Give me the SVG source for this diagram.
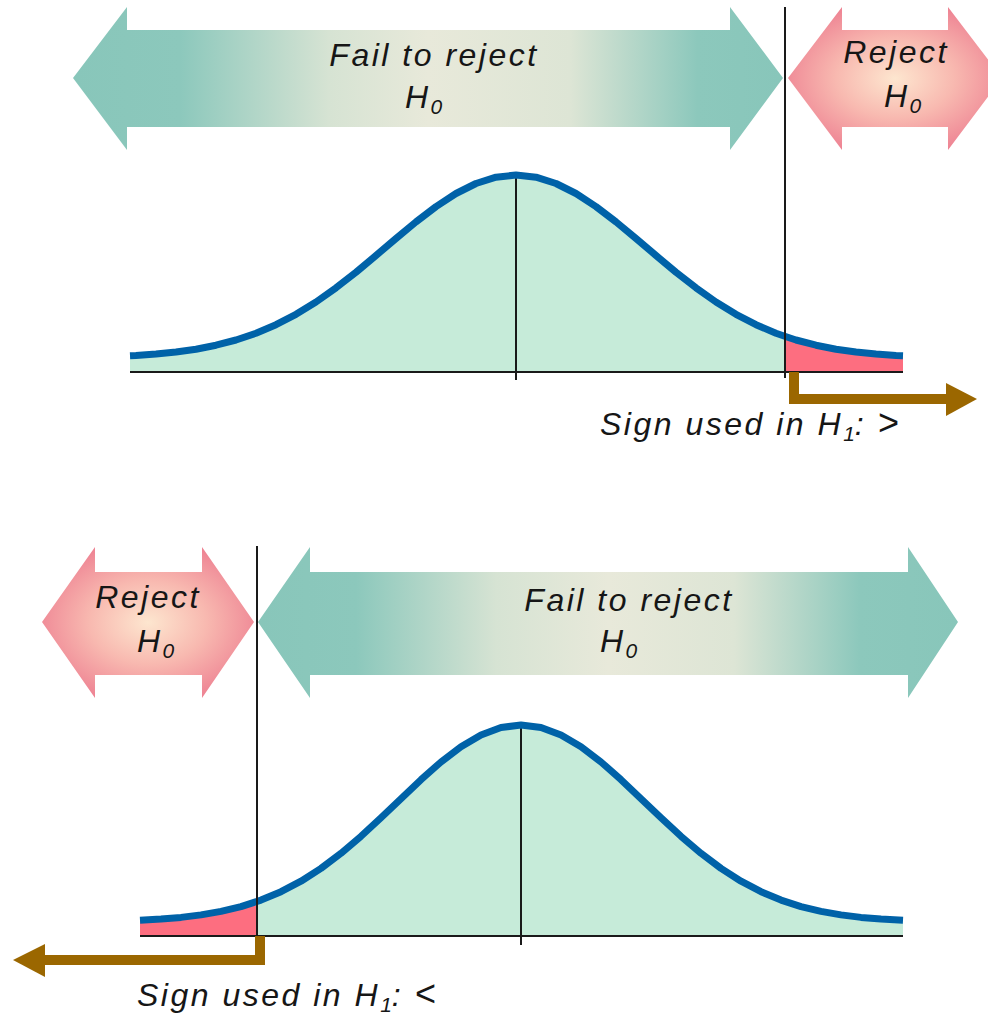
<svg xmlns="http://www.w3.org/2000/svg" width="988" height="1017" viewBox="0 0 988 1017">
<style>
.lbl{font-family:"Liberation Sans",Arial,sans-serif;font-style:italic;font-size:32px;letter-spacing:2.5px;fill:#161616}
.sub{font-size:21px;letter-spacing:0}
.sgn{font-size:36px;letter-spacing:0}
.axis{stroke:#1a1a1a;stroke-width:2;fill:none}
.curve{stroke:#0062a8;stroke-width:7;fill:none;stroke-linejoin:round;stroke-linecap:butt}
.green{fill:#c6ebd9}
.red{fill:#fd6e80}
.brown{stroke:#9b6700;stroke-width:10;fill:none}
.brownhead{fill:#9b6700}
</style>
<defs>
<linearGradient id="gTop" gradientUnits="userSpaceOnUse" x1="73" y1="0" x2="783" y2="0">
<stop offset="0" stop-color="#88c6ba"/>
<stop offset="0.15" stop-color="#8cc8bc"/>
<stop offset="0.36" stop-color="#d6e3d3"/>
<stop offset="0.5" stop-color="#e8e9da"/>
<stop offset="0.7" stop-color="#dde5d5"/>
<stop offset="0.88" stop-color="#8cc8bc"/>
<stop offset="1" stop-color="#88c6ba"/>
</linearGradient>
<linearGradient id="gBot" gradientUnits="userSpaceOnUse" x1="258" y1="0" x2="958" y2="0">
<stop offset="0" stop-color="#88c6ba"/>
<stop offset="0.14" stop-color="#8cc8bc"/>
<stop offset="0.34" stop-color="#d6e3d3"/>
<stop offset="0.5" stop-color="#e8e9da"/>
<stop offset="0.68" stop-color="#dde5d5"/>
<stop offset="0.86" stop-color="#8cc8bc"/>
<stop offset="1" stop-color="#88c6ba"/>
</linearGradient>
<radialGradient id="gRej" cx="0.5" cy="0.5" r="0.55">
<stop offset="0" stop-color="#fde6cf"/>
<stop offset="0.5" stop-color="#f8b9b0"/>
<stop offset="1" stop-color="#ee8393"/>
</radialGradient>
</defs>

<!-- Top panel -->
<g id="top-fail-arrow">
<polygon points="73,78 127,7 127,30 730,30 730,7 783,78 730,150 730,127 127,127 127,150" fill="url(#gTop)"/>
<text class="lbl" x="434" y="66" text-anchor="middle">Fail to reject</text>
<text class="lbl" x="405" y="108">H<tspan class="sub" dy="6">0</tspan></text>
</g>
<g id="top-reject-arrow">
<polygon points="788,78 842,7 842,30 948,30 948,7 1002,78 948,150 948,127 842,127 842,150" fill="url(#gRej)"/>
<text class="lbl" x="896" y="63" text-anchor="middle">Reject</text>
<text class="lbl" x="884" y="107">H<tspan class="sub" dy="6">0</tspan></text>
</g>
<g id="top-curve">
<path class="green" d="M130,372 L130,355.8 L136,355.5 L156,354 L176,352 L196,349.2 L216,345.2 L236,340 L256,333.2 L276,324.7 L296,314.3 L316,302 L336,287.8 L356,272.2 L376,255.5 L396,238.5 L416,221.9 L436,206.6 L456,193.5 L476,183.5 L496,177.2 L516,175 L536,177.2 L556,183.5 L576,193.5 L596,206.6 L616,221.9 L636,238.5 L656,255.5 L676,272.2 L696,287.8 L716,302 L736,314.3 L756,324.7 L776,333.2 L784,336 L784,372 Z"/>
<path class="red" d="M784,336 L796,340 L816,345.2 L836,349.2 L856,352 L876,354 L896,355.5 L903,355.8 L903,372 L784,372 Z"/>
<line class="axis" x1="130" y1="372" x2="903" y2="372"/>
<line class="axis" x1="516" y1="175" x2="516" y2="380"/>
<path class="curve" d="M130,355.8 L136,355.5 L156,354 L176,352 L196,349.2 L216,345.2 L236,340 L256,333.2 L276,324.7 L296,314.3 L316,302 L336,287.8 L356,272.2 L376,255.5 L396,238.5 L416,221.9 L436,206.6 L456,193.5 L476,183.5 L496,177.2 L516,175 L536,177.2 L556,183.5 L576,193.5 L596,206.6 L616,221.9 L636,238.5 L656,255.5 L676,272.2 L696,287.8 L716,302 L736,314.3 L756,324.7 L776,333.2 L784,336 L796,340 L816,345.2 L836,349.2 L856,352 L876,354 L896,355.5 L903,355.8"/>
<line class="axis" x1="785" y1="7" x2="785" y2="378"/>
</g>
<g id="top-sign">
<path class="brown" d="M794,372 L794,399 L948,399"/>
<polygon class="brownhead" points="946,383 977,399 946,416"/>
<text class="lbl" x="600" y="435">Sign used in H<tspan class="sub" dy="6">1</tspan><tspan dy="-6">: </tspan><tspan class="sgn">&gt;</tspan></text>
</g>

<!-- Bottom panel -->
<g id="bottom-reject-arrow">
<polygon points="42,622 95,547 95,572 202,572 202,547 254,622 202,698 202,675 95,675 95,698" fill="url(#gRej)"/>
<text class="lbl" x="148" y="608" text-anchor="middle">Reject</text>
<text class="lbl" x="137" y="652">H<tspan class="sub" dy="6">0</tspan></text>
</g>
<g id="bottom-fail-arrow">
<polygon points="258,622 310,547 310,572 908,572 908,547 958,622 908,698 908,675 310,675 310,698" fill="url(#gBot)"/>
<text class="lbl" x="629" y="611" text-anchor="middle">Fail to reject</text>
<text class="lbl" x="600" y="652">H<tspan class="sub" dy="6">0</tspan></text>
</g>
<g id="bottom-curve">
<path class="red" d="M140,936 L140,920.3 L161,919.1 L181,917.4 L201,914.9 L221,911.4 L241,906.6 L257,901.5 L257,936 Z"/>
<path class="green" d="M257,936 L257,901.5 L261,900.1 L281,891.7 L301,881.2 L321,868.4 L341,853.3 L361,836.3 L381,817.8 L401,798.7 L421,779.7 L441,762 L461,746.8 L481,735 L501,727.5 L521,725 L541,727.5 L561,735 L581,746.8 L601,762 L621,779.7 L641,798.7 L661,817.8 L681,836.3 L701,853.3 L721,868.4 L741,881.2 L761,891.7 L781,900.1 L801,906.6 L821,911.4 L841,914.9 L861,917.4 L881,919.1 L903,920.3 L903,936 Z"/>
<line class="axis" x1="140" y1="936" x2="903" y2="936"/>
<line class="axis" x1="521" y1="725" x2="521" y2="945"/>
<path class="curve" d="M140,920.3 L161,919.1 L181,917.4 L201,914.9 L221,911.4 L241,906.6 L261,900.1 L281,891.7 L301,881.2 L321,868.4 L341,853.3 L361,836.3 L381,817.8 L401,798.7 L421,779.7 L441,762 L461,746.8 L481,735 L501,727.5 L521,725 L541,727.5 L561,735 L581,746.8 L601,762 L621,779.7 L641,798.7 L661,817.8 L681,836.3 L701,853.3 L721,868.4 L741,881.2 L761,891.7 L781,900.1 L801,906.6 L821,911.4 L841,914.9 L861,917.4 L881,919.1 L903,920.3"/>
<line class="axis" x1="257" y1="546" x2="257" y2="940"/>
</g>
<g id="bottom-sign">
<path class="brown" d="M260,936 L260,960 L44,960"/>
<polygon class="brownhead" points="45,944 13,960 45,977"/>
<text class="lbl" x="137" y="1006">Sign used in H<tspan class="sub" dy="6">1</tspan><tspan dy="-6">: </tspan><tspan class="sgn">&lt;</tspan></text>
</g>
</svg>
